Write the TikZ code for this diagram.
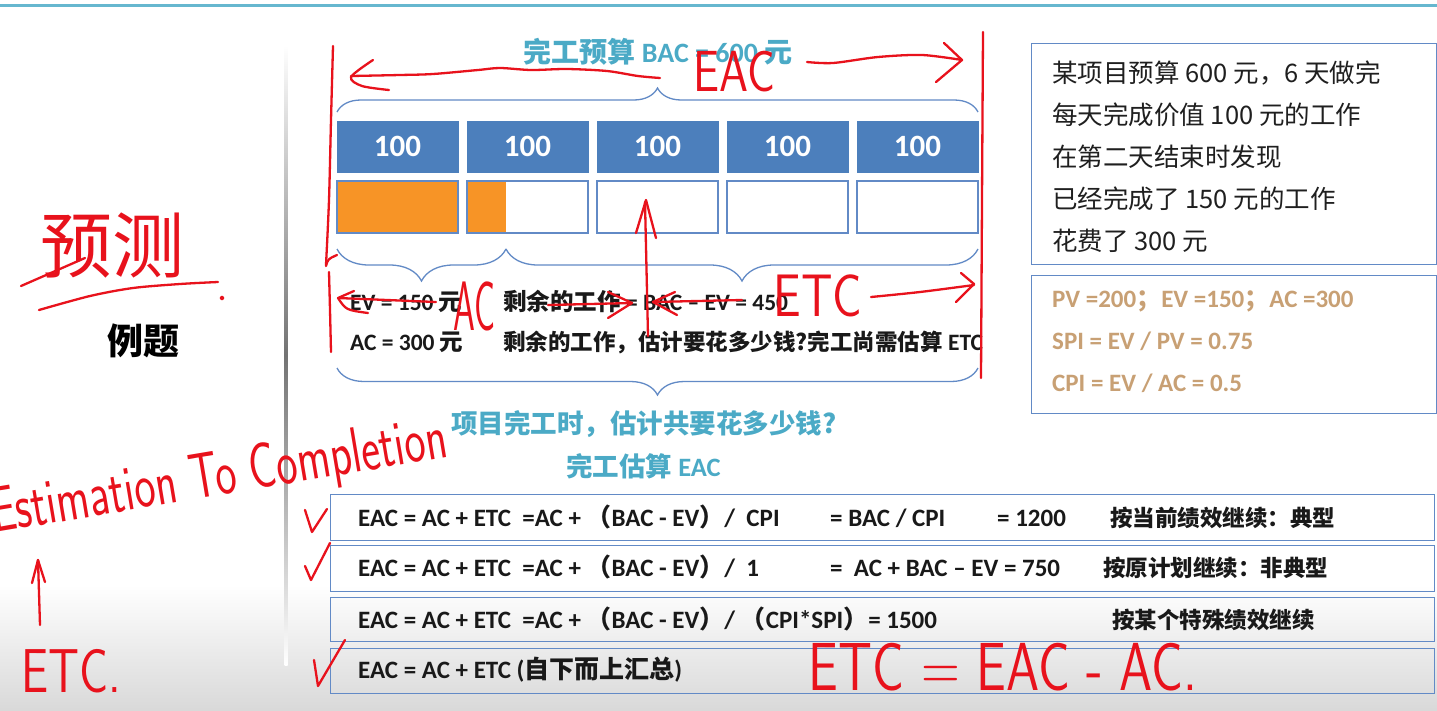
\documentclass[tikz,border=0pt]{standalone}
\usepackage{fontspec}
\usepackage{graphicx}
\setmainfont{Carlito}
\newfontfamily\cjk{Noto Sans CJK SC}
\usetikzlibrary{decorations.pathreplacing}

\definecolor{slideteal}{RGB}{75,170,198}
\definecolor{barblue}{RGB}{76,127,188}
\definecolor{edgeblue}{RGB}{98,138,198}
\definecolor{doneorange}{RGB}{247,148,38}
\definecolor{tanbrown}{RGB}{200,160,116}
\definecolor{ink}{RGB}{232,18,28}

\newcommand\zh[1]{{\cjk #1}}
\newcommand\squeeze[2]{\scalebox{#1}[1]{#2}}

\begin{document}
\begin{tikzpicture}[x=1pt,y=-1pt,
  planbox/.style={fill=barblue, draw=barblue, minimum width=121pt, minimum height=51pt,
    inner sep=0pt, text=white, font=\bfseries\fontsize{31}{35}\selectfont},
  workbox/.style={draw=edgeblue, line width=1.2pt, minimum width=121pt, minimum height=52pt, inner sep=0pt},
  panel/.style={draw=edgeblue, line width=1.4pt, inner sep=0pt, anchor=north west},
  curly/.style={draw=edgeblue, line width=1.3pt, decorate, decoration={brace, amplitude=#1}},
  txt/.style={anchor=base west, inner sep=0pt, text=black!90, font=\bfseries\fontsize{23.5}{27}\selectfont},
  formula/.style={txt, font=\bfseries\fontsize{25}{29}\selectfont},
  verdict/.style={txt, font=\cjk\bfseries\fontsize{22.5}{26}\selectfont},
  heading/.style={anchor=base, inner sep=0pt, text=slideteal, font=\bfseries\fontsize{26.5}{31}\selectfont},
  story/.style={anchor=base west, inner sep=0pt, text=black!88, font=\cjk\fontsize{25.5}{29}\selectfont},
  ratio/.style={anchor=base west, inner sep=0pt, text=tanbrown, font=\bfseries\fontsize{25}{29}\selectfont},
  hand/.style={inner sep=0pt, text=ink, font=\sffamily\fontsize{#1}{#1}\selectfont},
  ink/.style={draw=ink, line width=2.3pt, line cap=round, line join=round}]

\useasboundingbox (0,0) rectangle (1437,710);
\fill[white] (0,0) rectangle (1437,710);
% soft grey fade at the foot of the slide
\shade[top color=white, bottom color=black!15] (0,585) rectangle (1437,710);
% title rule and column divider
\draw[slideteal!85, line width=3pt] (0,5) -- (1437,5);
\shade[top color=white, bottom color=white, middle color=black!55] (284.5,45) rectangle (287.5,665);

\node[anchor=base, inner sep=0pt, font=\cjk\bfseries\fontsize{36}{40}\selectfont] (example) at (143,354) {例题};

% budget bar
\node[heading, font=\bfseries\fontsize{28}{32}\selectfont] (bac) at (658,62) {\zh{完工预算} BAC = 600 \zh{元}};
\draw[curly=24pt] (337,112) -- (978,112);
\foreach \i/\x in {1/397.5,2/527.5,3/657.5,4/787.5,5/917.5}{
  \node[planbox] (plan\i) at (\x,146.5) {100};
}
\fill[doneorange] (337,181) rectangle (458,233);
\fill[doneorange] (467,181) rectangle (506,233);
\foreach \i/\x in {1/397.5,2/527.5,3/657.5,4/787.5,5/917.5}{
  \node[workbox] (work\i) at (\x,207) {};
}
\draw[curly=32pt] (506,249) -- (337,249);
\draw[curly=32pt] (978,249) -- (506,249);

\node[txt] (ev) at (350,310) {EV = 150 \zh{元}};
\node[txt] (rest) at (503,310) {\zh{剩余的工作} = BAC – EV = 450};
\node[txt] (ac) at (350,350) {AC = 300 \zh{元}};
\node[txt] (etcq) at (503,350) {{\cjk\fontsize{22.5}{26}\selectfont 剩余的工作，估计要花多少钱?完工尚需估算} ETC};
\draw[curly=27pt] (978,368) -- (337,368);

\node[heading] (q) at (644,433) {\zh{项目完工时，估计共要花多少钱?}};
\node[heading] (eac) at (643.5,476) {\zh{完工估算} EAC};

% case description
\node[panel, minimum width=405pt, minimum height=221pt] (case) at (1031,43) {};
\node[story] (s1) at (1052,82) {某项目预算 600 元，6 天做完};
\node[story] (s2) at (1052,124) {每天完成价值 100 元的工作};
\node[story] (s3) at (1052,166) {在第二天结束时发现};
\node[story] (s4) at (1052,208) {已经完成了 150 元的工作};
\node[story] (s5) at (1052,250) {花费了 300 元};

\node[panel, minimum width=405pt, minimum height=138pt] (idx) at (1031,275) {};
\node[ratio] (t1) at (1052,307) {PV =200\zh{；}EV =150\zh{；}AC =300};
\node[ratio] (t2) at (1052,349) {SPI = EV / PV = 0.75};
\node[ratio] (t3) at (1052,391) {CPI = EV / AC = 0.5};

% EAC formulas
\node[panel, minimum width=1104pt, minimum height=46pt] (row1) at (330,494) {};
\node[panel, minimum width=1104pt, minimum height=46pt] (row2) at (330,545) {};
\node[panel, minimum width=1104pt, minimum height=44pt] (row3) at (330,597) {};
\node[panel, minimum width=1104pt, minimum height=45pt] (row4) at (330,648) {};

\node[formula] (f1a) at (358,526) {EAC = AC + ETC\ \ =AC + \zh{（}BAC - EV\zh{）}/\ \ CPI};
\node[formula] (f1b) at (830,526) {= BAC / CPI};
\node[formula] (f1c) at (997,526) {= 1200};
\node[verdict] (f1d) at (1110,526) {按当前绩效继续：典型};

\node[formula] (f2a) at (358,576) {EAC = AC + ETC\ \ =AC + \zh{（}BAC - EV\zh{）}/\ \ 1};
\node[formula] (f2b) at (830,576) {=\ \ AC + BAC – EV = 750};
\node[verdict] (f2c) at (1103,576) {按原计划继续：非典型};

\node[formula] (f3a) at (358,628) {EAC = AC + ETC\ \ =AC + \zh{（}BAC - EV\zh{）}/ \zh{（}CPI*SPI\zh{）}= 1500};
\node[verdict] (f3b) at (1112,628) {按某个特殊绩效继续};

\node[formula] (f4a) at (358,678) {EAC = AC + ETC (\zh{自下而上汇总})};

% ---- red pen notes ----
\node[hand=72, font=\cjk\fontsize{72}{72}\selectfont] (yuce) at (112,245) {预测};
\draw[ink] (21,286) -- (85,258);
\draw[ink] plot[smooth] coordinates {(39,310) (90,296) (133,288) (180,284) (218,282)};
\fill[ink] (222,298) circle (1.2);

\draw[ink] plot[smooth] coordinates {(333,46) (331,120) (329,200) (326,265)};
\draw[ink] (326,266) .. controls (328,259) .. (337,255);
\draw[ink] plot[smooth] coordinates {(329,272) (330,310) (331,352)};
\draw[ink] plot[smooth] coordinates {(983,32) (982,200) (981,378)};

\draw[ink] plot[smooth] coordinates {(351,76) (400,75) (433,74) (478,70) (500,68) (531,70) (567,69) (607,71) (638,76) (660,78)};
\draw[ink] plot[smooth] coordinates {(373,60) (351,77) (362,86) (389,90)};
\node[hand=58] (eacpen) at (734,91) [anchor=base] {\squeeze{0.8}{EAC}};
\draw[ink] plot[smooth] coordinates {(807,62) (833,63) (878,57) (922,55) (962,60)};
\draw[ink] (944,43) -- (962,60) -- (936,82);

\draw[ink] (648,336) -- (645,202);
\draw[ink] (636,233) -- (646,200) -- (656,238);

\draw[ink] (354,291) -- (338,298) -- (436,302);
\draw[ink] (338,298) .. controls (346,310) .. (368,313);
\node[hand=70] (acpen) at (474,330) [anchor=base] {\squeeze{0.5}{AC}};
\draw[ink] (548,305) -- (632,303);
\draw[ink] (608,292) -- (632,303) -- (608,318);
\draw[ink] (675,292) -- (653,302) -- (677,315);
\draw[ink] (653,302) -- (742,300);
\node[hand=60] (etcpen) at (818,316) [anchor=base] {\squeeze{0.82}{ETC}};
\draw[ink] plot[smooth] coordinates {(871,297) (920,292) (974,285)};
\draw[ink] (961,273) -- (974,284) -- (956,302);

\node[hand=64, anchor=base west, rotate=9.5] (etcword) at (-6,533) {\squeeze{0.7}{Estimation To Completion}};
\draw[ink] (40,625) -- (38,560);
\draw[ink] (32,583) -- (38,560) -- (45,582);
\node[hand=62] (etcfoot) at (71,692) [anchor=base] {\squeeze{0.78}{ETC.}};

\draw[ink] (305,510) -- (312,532) -- (327,509);
\draw[ink] (305,566) -- (311,580) -- (330,543);
\draw[ink] (314,660) -- (318,686) -- (345,640);
\node[hand=68] (etcrule) at (1003,690) [anchor=base] {\squeeze{0.78}{ETC = EAC - AC.}};
\end{tikzpicture}
\end{document}
